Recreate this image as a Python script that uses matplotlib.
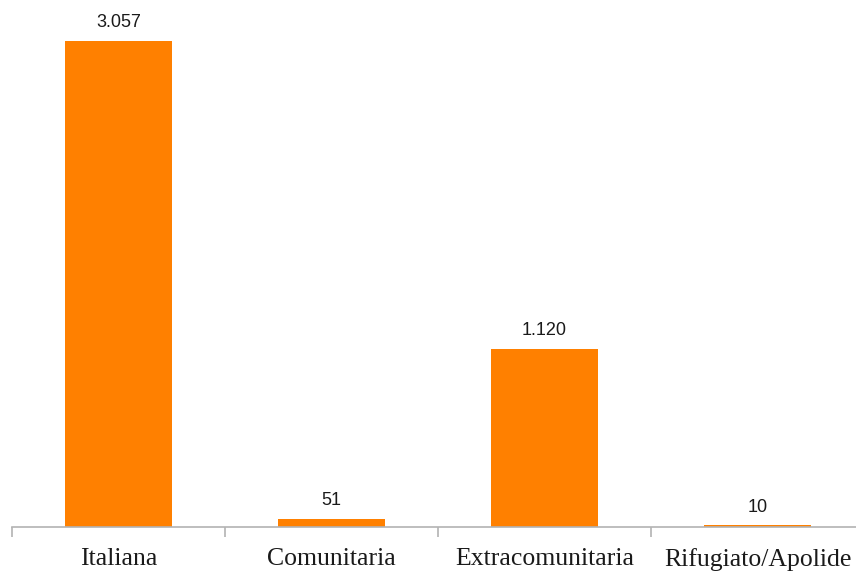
import matplotlib.pyplot as plt
import numpy as np

categories = ["Italiana", "Comunitaria", "Extracomunitaria", "Rifugiato/Apolide"]
values = [3057, 51, 1120, 10]
value_labels = ["3.057", "51", "1.120", "10"]

BAR_COLOR = "#ff8000"
AXIS_COLOR = "#b3b3b3"


def main():
    fig = plt.figure(figsize=(8.56, 5.72), dpi=100)
    ax = fig.add_axes([12 / 856, 45 / 572, 852 / 856, 527 / 572])

    x = np.arange(len(categories))
    ax.bar(x, values, width=0.5, color=BAR_COLOR, zorder=2)

    for xi, v, lab in zip(x, values, value_labels):
        ax.annotate(lab, (xi, v), xytext=(0, 7), textcoords="offset points",
                    ha="center", va="bottom", fontsize=13,
                    family="Liberation Sans", color="#1a1a1a")

    ax.set_xlim(-0.5, len(categories) - 0.5)
    ax.set_ylim(0, 3057 * 527 / 486)

    for side in ("top", "right", "left"):
        ax.spines[side].set_visible(False)
    ax.spines["bottom"].set_color(AXIS_COLOR)
    ax.spines["bottom"].set_linewidth(1.2)
    ax.set_yticks([])

    ax.set_xticks(x)
    ax.set_xticklabels(categories, family="Liberation Serif", fontsize=18.5,
                       color="#1a1a1a")
    ax.tick_params(axis="x", which="major", length=0, pad=15)
    ax.set_xticks(np.arange(len(categories) + 1) - 0.5, minor=True)
    ax.tick_params(axis="x", which="minor", length=7, width=1.2,
                   color=AXIS_COLOR)

    fig.savefig("out.png", dpi=100)


if __name__ == "__main__":
    main()
